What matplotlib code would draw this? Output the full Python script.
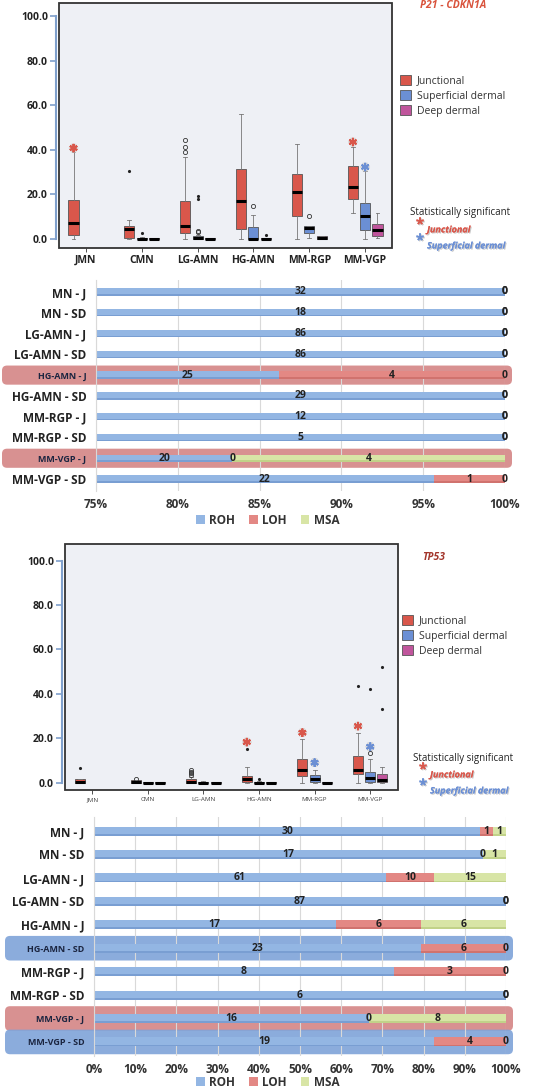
import matplotlib
matplotlib.use('Agg')
import matplotlib.pyplot as plt
import matplotlib.patheffects as pe
from matplotlib.patches import Rectangle, FancyBboxPatch, Patch
from matplotlib.transforms import IdentityTransform

plt.rcParams['font.family'] = ['Open Sans', 'DejaVu Sans']

# ---- box plot data (whisker low, q1, median, q3, whisker high) ----
groups = ['JMN', 'CMN', 'LG-AMN', 'HG-AMN', 'MM-RGP', 'MM-VGP']
regions = ['Junctional', 'Superficial dermal', 'Deep dermal']

p21_junc = [(0, 1.8, 7.3, 17.5, 38.9), (0, 0.5, 4.3, 5.8, 8.5), (0, 2.5, 5.8, 17.0, 36.9),
            (0, 4.6, 17.0, 31.2, 55.9), (0, 10.3, 21.2, 29.0, 42.6), (11.8, 17.8, 23.5, 32.7, 41.4)]
p21_sup = [None, (0, 0, 0, 0.5, 1.0), (0, 0, 0.3, 1.2, 2.0),
           (0, 0, 0, 5.5, 11.0), (0.4, 2.7, 4.8, 5.8, 5.8), (0, 4.0, 10.5, 16.0, 30.5)]
p21_deep = [None, (0, 0, 0, 0.3, 0.3), (0, 0, 0, 0.3, 0.3),
            (0, 0, 0, 0.3, 0.3), (0, 0.2, 0.7, 1.3, 1.3), (0.4, 1.6, 4.0, 6.6, 11.6)]
p21_junc_out = [[], [], [38.9, 41.3, 44.2], [], [], []]
p21_sup_out = [[], [], [3.0, 3.6], [14.9], [10.3], []]
p21_deep_out = [[], [], [], [], [], []]
p21_junc_ext = [[], [30.6], [], [], [], []]
p21_sup_ext = [[], [2.5], [18.0, 19.3], [], [], []]
p21_deep_ext = [[], [], [], [1.8], [], []]
p21_sig = [(0, 0, 40.8), (5, 0, 43.5), (5, 1, 32.3)]

tp53_junc = [(0, 0, 0.5, 1.5, 1.5), (0, 0, 0.3, 1.0, 1.0), (0, 0, 0.5, 1.5, 2.5),
             (0, 0.5, 1.5, 3.2, 7.2), (0, 3.0, 5.7, 10.5, 19.7), (0, 3.8, 5.7, 12.0, 22.5)]
tp53_sup = [None, (0, 0, 0, 0.3, 0.3), (0, 0, 0, 0.3, 0.6),
            (0, 0, 0, 0.3, 0.6), (0, 0.5, 1.5, 3.5, 5.7), (0, 0.5, 2.0, 4.7, 10.7)]
tp53_deep = [None, (0, 0, 0, 0.3, 0.3), (0, 0, 0, 0.3, 0.3),
             (0, 0, 0, 0.3, 0.3), (0, 0, 0, 0.3, 0.3), (0, 0.5, 1.0, 3.8, 6.9)]
tp53_junc_out = [[], [1.8], [3.5, 4.3, 5.0, 5.7], [], [], []]
tp53_sup_out = [[], [], [], [], [], [13.5]]
tp53_deep_out = [[], [], [], [], [], []]
tp53_junc_ext = [[6.8], [], [], [15.0], [], [43.5]]
tp53_sup_ext = [[], [], [], [1.5], [], [42.2]]
tp53_deep_ext = [[], [], [], [], [], [33.2, 52.3]]
tp53_sig = [(3, 0, 18.3), (4, 0, 22.5), (4, 1, 9.0), (5, 0, 25.5), (5, 1, 16.2)]

# ---- stacked bar data ----
rows = ['MN - J', 'MN - SD', 'LG-AMN - J', 'LG-AMN - SD', 'HG-AMN - J',
        'HG-AMN - SD', 'MM-RGP - J', 'MM-RGP - SD', 'MM-VGP - J', 'MM-VGP - SD']
status = ['ROH', 'LOH', 'MSA']
p21_roh = [32, 18, 86, 86, 25, 29, 12, 5, 20, 22]
p21_loh = [0, 0, 0, 0, 4, 0, 0, 0, 0, 1]
p21_msa = [0, 0, 0, 0, 0, 0, 0, 0, 4, 0]
p21_mark = {4: 'red', 8: 'red'}
tp53_roh = [30, 17, 61, 87, 17, 23, 8, 6, 16, 19]
tp53_loh = [1, 0, 10, 0, 6, 6, 3, 0, 0, 4]
tp53_msa = [1, 1, 15, 0, 6, 0, 0, 0, 8, 0]
tp53_mark = {5: 'blue', 8: 'red', 9: 'blue'}

box_colors = ['#d9574b', '#6b8fd4', '#c0559c']
bar_colors = ['#93b6e3', '#e38884', '#d8e5a6']
bar_dark = ['#6f95cc', '#c86a66', '#b8cb7e']
hl_colors = {'red': '#d48585', 'blue': '#7fa3d9'}

W, H = 535, 1088
fig = plt.figure(figsize=(W / 100, H / 100), dpi=100)


def px_axes(l, t, r, b):
    return fig.add_axes([l / W, 1 - b / H, (r - l) / W, (b - t) / H])


def boxplot(ax, stats, outs, exts, sig, ylim, xlim, small):
    offsets = [-0.22, 0, 0.22]
    ax.set_facecolor('#eef0f5')
    for k in range(3):
        st, pos = [], []
        for g, s in enumerate(stats[k]):
            if s is None:
                continue
            lo, q1, med, q3, hi = s
            st.append(dict(whislo=lo, q1=q1, med=med, q3=q3, whishi=hi, fliers=outs[k][g]))
            pos.append(g + offsets[k])
        ax.bxp(st, positions=pos, widths=0.18, capwidths=0.07, patch_artist=True,
               manage_ticks=False,
               boxprops=dict(facecolor=box_colors[k], edgecolor='#555555', linewidth=0.6),
               medianprops=dict(color='black', linewidth=2.2, solid_capstyle='butt'),
               whiskerprops=dict(color='#777777', linewidth=0.6),
               capprops=dict(color='#777777', linewidth=0.6),
               flierprops=dict(marker='o', markerfacecolor='none', markeredgecolor='#333333',
                               markersize=3, markeredgewidth=0.6))
        for g, e in enumerate(exts[k]):
            if e:
                ax.plot([g + offsets[k]] * len(e), e, ls='none', marker='.', color='#222222',
                        markersize=2.5)
    for g, k, y in sig:
        ax.plot(g + offsets[k], y, marker=(6, 2, 0), markersize=6, markeredgewidth=1.4,
                color=box_colors[k], ls='none',
                path_effects=[pe.withStroke(linewidth=3.5, foreground='#dcdcdc')])
    ax.set_xlim(*xlim)
    ax.set_ylim(*ylim)
    for s in ['top', 'right', 'bottom']:
        ax.spines[s].set_visible(False)
    ax.add_patch(Rectangle((0, 0), 1, 1, transform=ax.transAxes, fill=False,
                           edgecolor='#333333', linewidth=1.3, clip_on=False, zorder=5))
    ax.spines['left'].set_position(('outward', 2))
    ax.spines['left'].set_bounds(0, 100)
    ax.spines['left'].set_color('#7fa0cc')
    ax.spines['left'].set_linewidth(1.5)
    ax.set_yticks([0, 20, 40, 60, 80, 100])
    ax.set_yticklabels(['%.1f' % v for v in [0, 20, 40, 60, 80, 100]],
                       fontsize=7.5, fontweight='bold', color='#222222')
    ax.tick_params(axis='y', color='#7fa0cc', length=4, width=1.2, pad=2)
    ax.set_xticks(range(len(groups)))
    if small:
        ax.set_xticklabels(groups, fontsize=4.5, color='#444444')
    else:
        ax.set_xticklabels(groups, fontsize=7.5, fontweight='bold', color='#222222')
    ax.tick_params(axis='x', color='#333333', length=3, width=0.6, pad=2)


def stacked(ax, roh, loh, msa, marks, xmin, ticks, bh, hl_h, hl_x):
    ax.patch.set_alpha(0)
    vals = [roh, loh, msa]
    n = len(rows)
    ax.set_ylim(n - 0.4, -0.6)
    ax.set_xlim(xmin, 100)
    for t in ticks:
        ax.axvline(t, color='#d9d9d9', linewidth=0.8, zorder=0)
    left = [0.0] * n
    for k in range(3):
        for i in range(n):
            tot = roh[i] + loh[i] + msa[i]
            w = vals[k][i] / tot * 100
            ax.barh(i, w, left=left[i], height=bh, color=bar_colors[k], zorder=2)
            ax.barh(i + bh * 0.4, w, left=left[i], height=bh * 0.2, color=bar_dark[k],
                    alpha=0.7, zorder=2)
            a = max(left[i], xmin)
            b = left[i] + w
            ax.text((a + b) / 2, i, str(vals[k][i]), ha='center', va='center',
                    fontsize=7.5, fontweight='bold', color='#222222', zorder=4)
            left[i] += w
    ax.set_yticks(range(n))
    ax.set_yticklabels(rows)
    for i, lab in enumerate(ax.get_yticklabels()):
        if i in marks:
            lab.set_fontsize(6.5)
            lab.set_color('#1b2540')
        else:
            lab.set_fontsize(8.5)
            lab.set_color('#222222')
        lab.set_fontweight('bold')
    ax.set_xticks(ticks)
    ax.set_xticklabels(['%d%%' % t for t in ticks], fontsize=8.5, fontweight='bold',
                       color='#333333')
    ax.tick_params(axis='both', length=0)
    ax.tick_params(axis='y', pad=7)
    ax.tick_params(axis='x', pad=5)
    for s in ['top', 'right', 'bottom']:
        ax.spines[s].set_visible(False)
    ax.spines['left'].set_color('#d9d9d9')
    for i, c in marks.items():
        y0 = ax.transData.transform((xmin, i + hl_h / 2))[1]
        y1 = ax.transData.transform((xmin, i - hl_h / 2))[1]
        p = FancyBboxPatch((hl_x[0], y0), hl_x[1] - hl_x[0], y1 - y0,
                           boxstyle='round,pad=0,rounding_size=5', transform=IdentityTransform(),
                           facecolor=hl_colors[c], edgecolor='none', alpha=0.9, zorder=-1)
        fig.add_artist(p)


def box_legend(x, y, title, tcolor, sy):
    fig.text(x + 20 / W, y, title, fontsize=7.5, fontweight='bold', style='italic',
             color=tcolor, va='center')
    handles = [Patch(facecolor=c, edgecolor='#555555', linewidth=0.6) for c in box_colors]
    fig.legend(handles, regions, loc='upper left', bbox_to_anchor=(x, sy), frameon=False,
               fontsize=7.5, handlelength=1.1, handleheight=1.1, labelspacing=0.35,
               handletextpad=0.5, borderpad=0, borderaxespad=0, labelcolor='#333333')


def sig_note(x, y):
    fig.text(x, y, 'Statistically significant', fontsize=7, color='#222222', va='center')
    shadow = [pe.withSimplePatchShadow(offset=(0.8, -0.8), shadow_rgbFace='#bbbbbb', alpha=0.8),
              pe.Normal()]
    for j, (c, lab) in enumerate([(box_colors[0], 'Junctional'), (box_colors[1], 'Superficial dermal')]):
        yy = y - (15 + 16 * j) / H
        fig.text(x + 10 / W, yy + 3 / H, '*', fontsize=11, fontweight='bold', color=c,
                 ha='center', va='center', path_effects=shadow)
        fig.text(x + 17 / W, yy - 2 / H, lab, fontsize=6.5, fontweight='bold', style='italic',
                 color=c, va='center', path_effects=shadow)


# P21 box plot
ax1 = px_axes(59, 3, 392, 248)
boxplot(ax1, [p21_junc, p21_sup, p21_deep], [p21_junc_out, p21_sup_out, p21_deep_out],
        [p21_junc_ext, p21_sup_ext, p21_deep_ext], p21_sig, (-4, 105.8), (-0.48, 5.48), False)
box_legend(400 / W, 1 - 6 / H, 'P21 - CDKN1A', '#d9533c', 1 - 75 / H)
sig_note(410 / W, 1 - 213 / H)

# P21 stacked bars
ax2 = px_axes(96, 279.5, 505, 491.5)
stacked(ax2, p21_roh, p21_loh, p21_msa, p21_mark, 75, [75, 80, 85, 90, 95, 100], 0.36, 0.92,
        (2, 512))

# TP53 box plot
ax3 = px_axes(65, 544, 398, 790)
boxplot(ax3, [tp53_junc, tp53_sup, tp53_deep], [tp53_junc_out, tp53_sup_out, tp53_deep_out],
        [tp53_junc_ext, tp53_sup_ext, tp53_deep_ext], tp53_sig, (-3.3, 107.5), (-0.49, 5.5), True)
box_legend(402 / W, 1 - 558 / H, 'TP53', '#a3362c', 1 - 615 / H)
sig_note(413 / W, 1 - 758 / H)

# TP53 stacked bars
ax4 = px_axes(94, 817, 506, 1056)
stacked(ax4, tp53_roh, tp53_loh, tp53_msa, tp53_mark, 0, list(range(0, 101, 10)), 0.38, 1.05,
        (5, 513))

for yl in [520, 1082]:
    hs = [Patch(facecolor=c, edgecolor='none') for c in bar_colors]
    leg = fig.legend(hs, status, loc='center', bbox_to_anchor=(268 / W, 1 - yl / H), ncol=3,
                     frameon=False, fontsize=8.5, handlelength=0.7, handleheight=0.7,
                     handletextpad=0.4, columnspacing=1.2, borderpad=0)
    for t in leg.get_texts():
        t.set_fontweight('bold')
        t.set_color('#333333')

fig.savefig('out.png', dpi=100)
